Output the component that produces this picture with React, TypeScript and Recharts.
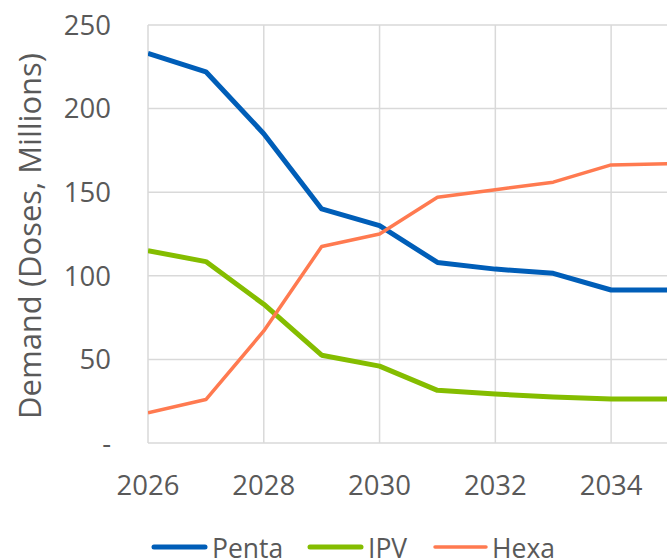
import React from "react";
import { LineChart, Line, XAxis, YAxis, CartesianGrid } from "recharts";

const years = [2026, 2027, 2028, 2029, 2030, 2031, 2032, 2033, 2034, 2035];
const penta = [233, 222, 185, 140, 130, 108, 104, 101.5, 91.5, 91.5];
const ipv = [115, 108.5, 83, 52.5, 46, 31.5, 29.3, 27.5, 26.3, 26.3];
const hexa = [18, 26, 67, 117.5, 125, 147, 151.5, 156, 166.3, 167];

const xTicks = [2026, 2028, 2030, 2032, 2034];
const yTicks = [0, 50, 100, 150, 200, 250];

const seriesNames = ["Penta", "IPV", "Hexa"];
const seriesColors = ["#005EB8", "#84BD00", "#FF7A50"];
const seriesWidths = [5, 5, 3.5];
const seriesKeys = ["penta", "ipv", "hexa"];

const data = years.map((y, i) => ({
  year: y,
  penta: penta[i],
  ipv: ipv[i],
  hexa: hexa[i],
}));

const FONT = "'Open Sans', sans-serif";
const TXT = "#595959";

const YLabel = (props: any) => {
  const vb = props.viewBox || { x: 0, y: 0, width: 0, height: 0 };
  const cx = vb.x + 29;
  const cy = vb.y + vb.height / 2 + 2;
  return (
    <text
      x={cx}
      y={cy}
      transform={`rotate(-90 ${cx} ${cy})`}
      textAnchor="middle"
      dominantBaseline="central"
      fill={TXT}
      fontFamily={FONT}
      fontSize={31}
    >
      Demand (Doses, Millions)
    </text>
  );
};

const legendItems = [
  { lineX: 152, textX: 212 },
  { lineX: 308, textX: 368 },
  { lineX: 433, textX: 492 },
];

export default function App() {
  return (
    <div
      style={{
        position: "fixed",
        left: 0,
        top: 0,
        width: 667,
        height: 559,
        overflow: "hidden",
        background: "#fff",
      }}
    >
      <LineChart
        width={705}
        height={559}
        data={data}
        margin={{ top: 25, right: 36, left: 0, bottom: 86 }}
      >
        <CartesianGrid stroke="#D9D9D9" strokeWidth={1.5} />
        <XAxis
          dataKey="year"
          type="number"
          domain={[2026, 2035]}
          ticks={xTicks}
          allowDataOverflow
          axisLine={false}
          tickLine={false}
          tickSize={0}
          tickMargin={32}
          height={30}
          tick={{ fill: TXT, fontFamily: FONT, fontSize: 27.5 }}
        />
        <YAxis
          type="number"
          domain={[0, 250]}
          ticks={yTicks}
          width={148}
          axisLine={false}
          tickLine={false}
          tickSize={0}
          tickMargin={37}
          tickFormatter={(v: number) => (v === 0 ? "-" : String(v))}
          tick={{ fill: TXT, fontFamily: FONT, fontSize: 27.5 }}
          label={<YLabel />}
        />
        {seriesKeys.map((k, i) => (
          <Line
            key={k}
            type="linear"
            dataKey={k}
            name={seriesNames[i]}
            stroke={seriesColors[i]}
            strokeWidth={seriesWidths[i]}
            dot={false}
            activeDot={false}
            strokeLinejoin="round"
            isAnimationActive={false}
          />
        ))}
      </LineChart>
      <svg
        width={667}
        height={40}
        style={{ position: "absolute", left: 0, top: 519 }}
      >
        {seriesNames.map((n, i) => (
          <g key={n}>
            <line
              x1={legendItems[i].lineX + 2}
              x2={legendItems[i].lineX + 53}
              y1={28}
              y2={28}
              stroke={seriesColors[i]}
              strokeWidth={seriesWidths[i]}
              strokeLinecap="round"
            />
            <text
              x={legendItems[i].textX}
              y={39}
              fill={TXT}
              fontFamily={FONT}
              fontSize={26.5}
            >
              {n}
            </text>
          </g>
        ))}
      </svg>
    </div>
  );
}
